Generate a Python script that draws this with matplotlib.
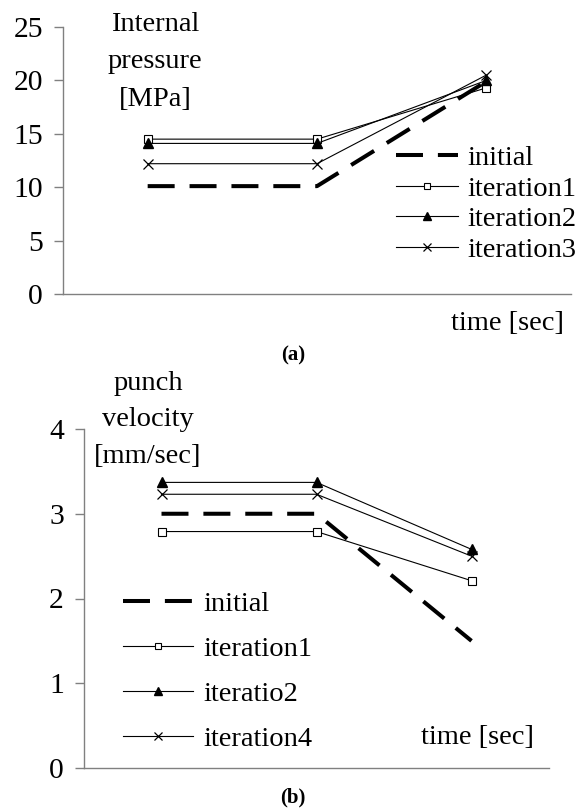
import matplotlib
matplotlib.use("Agg")
import matplotlib.pyplot as plt
import numpy as np

plt.rcParams['font.family'] = ['Liberation Serif', 'DejaVu Serif']

# three time points (no x tick labels in the original)
steps = [0, 1, 2]

# (a) internal pressure [MPa]
pres_initial = [10.1, 10.1, 19.9]
pres_iter1 = [14.5, 14.5, 19.3]
pres_iter2 = [14.1, 14.1, 20.0]
pres_iter3 = [12.2, 12.2, 20.5]
pres_ticks = [0, 5, 10, 15, 20, 25]

# (b) punch velocity [mm/sec]
vel_initial = [3.0, 3.0, 1.5]
vel_iter1 = [2.79, 2.79, 2.21]
vel_iter2 = [3.37, 3.37, 2.58]
vel_iter4 = [3.23, 3.23, 2.50]
vel_ticks = [0, 1, 2, 3, 4]

FS = 20.5
TICK_FS = 21.3
GREY = '#808080'
W, H = 586, 809


def style_axes(ax, ticks):
    for side in ('top', 'right'):
        ax.spines[side].set_visible(False)
    for side in ('left', 'bottom'):
        ax.spines[side].set_color(GREY)
        ax.spines[side].set_linewidth(1.0)
    ax.set_xlim(-0.5, 2.5)
    ax.set_ylim(ticks[0], ticks[-1])
    ax.set_yticks(ticks)
    ax.set_xticks([])
    ax.tick_params(axis='y', direction='out', length=6.5, width=1.0,
                   color=GREY, pad=8, labelsize=TICK_FS)


def draw_series(ax, initial, s1, s2, s3, labels):
    ax.plot(steps, initial, color='black', lw=2.9, dashes=(6.7, 3.7),
            label=labels[0])
    ax.plot(steps, s1, color='black', lw=0.8, marker='s', ms=6,
            mfc='white', mec='black', mew=0.8, label=labels[1])
    ax.plot(steps, s2, color='black', lw=0.8, marker='^', ms=7,
            mfc='black', mec='black', label=labels[2])
    ax.plot(steps, s3, color='black', lw=0.8, marker='x', ms=7,
            mew=0.9, label=labels[3])


fig = plt.figure(figsize=(W / 100, H / 100), dpi=100)

# --- (a) ---
ax1 = fig.add_axes([63 / W, 1 - 294 / H, 508 / W, 267 / H])
style_axes(ax1, pres_ticks)
draw_series(ax1, pres_initial, pres_iter1, pres_iter2, pres_iter3,
            ['initial', 'iteration1', 'iteration2', 'iteration3'])
ax1.legend(loc='upper left', bbox_to_anchor=(396 / W, 1 - 145.5 / H),
           bbox_transform=fig.transFigure, frameon=False, fontsize=FS,
           borderpad=0, borderaxespad=0, handlelength=2.18,
           handletextpad=0.32, labelspacing=0.16, markerscale=0.8)
fig.text(155 / W, 1 - 62 / H, 'Internal\npressure\n[MPa]', fontsize=FS,
         ha='center', va='center', linespacing=1.68)
fig.text(564 / W, 1 - 324 / H, 'time [sec]', fontsize=FS,
         ha='right', va='center')
fig.text(293 / W, 1 - 355 / H, '(a)', fontsize=15, fontweight='bold',
         ha='center', va='center')

# --- (b) ---
ax2 = fig.add_axes([84 / W, 1 - 768 / H, 465 / W, 339 / H])
style_axes(ax2, vel_ticks)
draw_series(ax2, vel_initial, vel_iter1, vel_iter2, vel_iter4,
            ['initial', 'iteration1', 'iteratio2', 'iteration4'])
ax2.legend(loc='upper left', bbox_to_anchor=(123 / W, 1 - 591.5 / H),
           bbox_transform=fig.transFigure, frameon=False, fontsize=FS,
           borderpad=0, borderaxespad=0, handlelength=2.46,
           handletextpad=0.35, labelspacing=0.66, markerscale=0.8)
fig.text(148 / W, 1 - 420 / H, 'punch\nvelocity\n[mm/sec]', fontsize=FS,
         ha='center', va='center', linespacing=1.63)
fig.text(534 / W, 1 - 737 / H, 'time [sec]', fontsize=FS,
         ha='right', va='center')
fig.text(293 / W, 1 - 797 / H, '(b)', fontsize=15, fontweight='bold',
         ha='center', va='center')

fig.savefig('out.png', dpi=100)
